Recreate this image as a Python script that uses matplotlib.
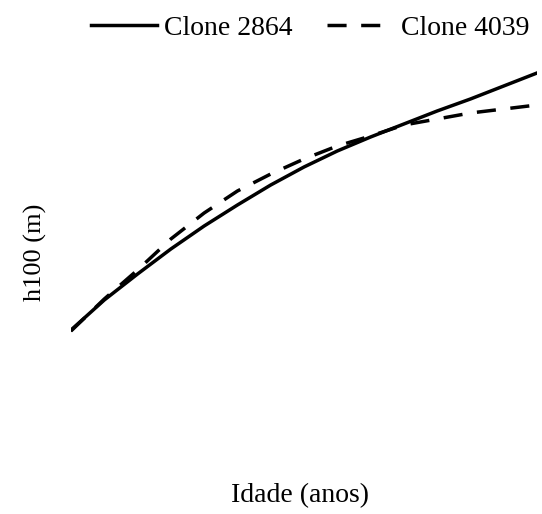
import matplotlib.pyplot as plt

# idade (anos) e altura dominante h100 (m)
idade = [2, 3, 4, 5, 6, 7, 8, 9, 10, 11, 12, 13, 14, 15, 16]
clone_2864 = [3.0, 6.0, 8.6, 11.1, 13.4, 15.5, 17.5, 19.3, 20.9, 22.3, 23.6, 24.9, 26.1, 27.4, 28.7]
clone_4039 = [2.9, 6.1, 9.0, 12.1, 14.7, 16.9, 18.6, 20.1, 21.4, 22.4, 23.5, 24.1, 24.7, 25.1, 25.5]

plt.rcParams['font.family'] = ['Liberation Serif', 'DejaVu Serif']

fig = plt.figure(figsize=(5.42, 5.14), dpi=100)
ax = fig.add_axes([71 / 542, 1 - 470 / 514, (537 - 71) / 542, 410 / 514])

ax.plot(idade, clone_2864, color='black', lw=2.5, label='Clone 2864')
ax.plot(idade, clone_4039, color='black', lw=2.5, dashes=(5.5, 4.2), label='Clone 4039')

ax.set_xlim(2, 16)
ax.set_ylim(-11, 30)
ax.axis('off')

fig.text(35 / 542, 1 - 252 / 514, 'h100 (m)', rotation=90, ha='center', va='center', fontsize=19)
fig.text(300 / 542, 1 - 496 / 514, 'Idade (anos)', ha='center', va='center', fontsize=20)

fig.legend(loc='center', bbox_to_anchor=(0.572, 1 - 28 / 514), ncol=2, frameon=False,
           fontsize=20, handlelength=2.4, handletextpad=0.25, columnspacing=1.25)

fig.savefig('out.png', dpi=100)
